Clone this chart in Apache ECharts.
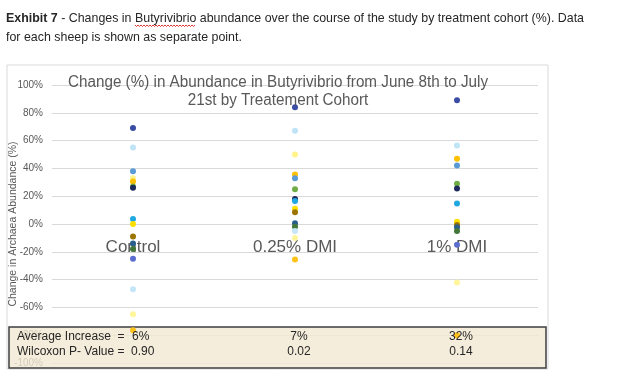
<!DOCTYPE html>
<html>
<head>
<meta charset="utf-8">
<script src="https://cdn.jsdelivr.net/npm/echarts@6/dist/echarts.min.js"></script>
<style>
html,body{margin:0;padding:0;background:#fff;}
#c{width:624px;height:390px;}
</style>
</head>
<body>
<div id="c"></div>
<script>
// ---- data ----
const categories = ['Control', '0.25% DMI', '1% DMI'];
// change (%) per sheep, one value per sheep in each cohort (null = not visible)
const control = [69, 55, 33, 30.5, 38, 27, 26, 3.6, 0, -9, -14, -18, -25, -47, -65, -76.5];
const dmi025  = [84, 67, 50, 35.6, 33, 25, 18, 16.6, 11, 8.4, 0.5, -2, null, -5, -10, -25.5];
const dmi1    = [89, 56.5, null, 47, 42, 29, 25.5, 14.7, 1.7, -0.7, -2.4, -5, -15, null, -42, -80];
const avgIncrease = ['6%', '7%', '32%'];
const pValues = ['0.90', '0.02', '0.14'];
const yMin = -100, yMax = 100, yStep = 20;
const titleLines = ['Change (%) in Abundance in Butyrivibrio from June 8th to July', '21st by Treatement Cohort'];
const captionBold = 'Exhibit 7';
const captionLine1 = ' - Changes in Butyrivibrio abundance over the course of the study by treatment cohort (%). Data';
const captionLine2 = 'for each sheep is shown as separate point.';

// ---- styles ----
const sheepColors = ['#3A4CA3', '#BFE4F6', '#FFF38A', '#FFC000', '#5B9BD5', '#70AD47', '#1F2A5C', '#20A9E1',
  '#FFE000', '#9C7400', '#2A5E8C', '#43773A', '#5B6ECF', '#C5E6F7', '#FFF59A', '#FFC21A'];

const chart = echarts.init(document.getElementById('c'), null, {renderer: 'canvas'});

const series = control.map((v, i) => ({
  name: 'Sheep ' + (i + 1),
  type: 'scatter',
  symbolSize: 6,
  itemStyle: {color: sheepColors[i], opacity: 1},
  data: [[categories[0], control[i]], [categories[1], dmi025[i]], [categories[2], dmi1[i]]]
    .filter(d => d[1] !== null),
  z: 2
}));

chart.setOption({
  animation: false,
  grid: {left: 52, right: 86, top: 85, bottom: 27, containLabel: false, outerBoundsMode: 'none'},
  xAxis: {
    type: 'category', data: categories, boundaryGap: true, position: 'bottom', offset: -139,
    axisLine: {show: false, onZero: false},
    axisTick: {show: false},
    splitLine: {show: false},
    axisLabel: {fontFamily: 'Liberation Sans', fontSize: 17, color: '#595959', margin: 15}
  },
  yAxis: {
    type: 'value', min: yMin, max: yMax, interval: yStep,
    name: 'Change in Archaea Abundance (%)', nameLocation: 'middle', nameGap: 33, nameMoveOverlap: false,
    nameTextStyle: {fontFamily: 'Liberation Sans', fontSize: 10.5, color: '#595959'},
    axisLine: {show: false}, axisTick: {show: false},
    axisLabel: {formatter: '{value}%', fontFamily: 'Liberation Sans', fontSize: 10, color: '#595959', margin: 9},
    splitLine: {lineStyle: {color: '#D9D9D9', width: 1}}
  },
  series: series
});

// ---- annotations ----
const mctx = document.createElement('canvas').getContext('2d');
const capFont = 'Liberation Sans', capSize = 13.5;
mctx.font = 'bold ' + capSize + 'px "' + capFont + '"';
const wBold = mctx.measureText(captionBold).width;
mctx.font = capSize + 'px "' + capFont + '"';
const wRest = mctx.measureText(captionLine1).width;
const capScale = 578 / (wBold + wRest);
const wPre = mctx.measureText(' - Changes in ').width;
const wWord = mctx.measureText('Butyrivibrio').width;
const capX = 6;
const sqStart = capX + (wBold + wPre) * capScale, sqEnd = sqStart + wWord * capScale;
const squiggle = [];
for (let x = sqStart, k = 0; x <= sqEnd; x += 1.5, k++) squiggle.push([x, 25.5 + (k % 2 ? 1 : -0.5)]);

const titleFont = 'Liberation Sans', titleSize = 16;
mctx.font = titleSize + 'px "' + titleFont + '"';
const titleScale = 420 / mctx.measureText(titleLines[0]).width;

const colX = categories.map(c => chart.convertToPixel({xAxisIndex: 0}, c));
const statFont = 'Liberation Sans';
const stat = (text, x, y, align) => ({type: 'text', z: 10, silent: true, x: x, y: y,
  style: {text: text, fontFamily: statFont, fontSize: 12, fill: '#262626', verticalAlign: 'middle', align: align}});
const graphics = [
  {type: 'rect', z: 0, silent: true, shape: {x: 7, y: 65, width: 541, height: 304},
    style: {fill: 'none', stroke: '#D9D9D9', lineWidth: 1}},
  {type: 'rect', z: 1, silent: true, shape: {x: 9, y: 327, width: 537, height: 41},
    style: {fill: 'rgba(243,233,210,0.8)', stroke: '#3F3F3F', lineWidth: 1.5}},
  {type: 'text', z: 10, silent: true, x: capX, y: 8.5, scaleX: capScale, style: {
    text: '{b|' + captionBold + '}' + captionLine1 + '\n' + captionLine2,
    fontFamily: capFont, fontSize: capSize, fill: '#262626', lineHeight: 19, verticalAlign: 'top',
    rich: {b: {fontWeight: 'bold', fontFamily: capFont, fontSize: capSize, fill: '#262626', lineHeight: 19}}
  }},
  {type: 'polyline', z: 10, silent: true, shape: {points: squiggle}, style: {stroke: '#E03030', lineWidth: 1, fill: null}},
  {type: 'text', z: 3, silent: true, x: 278, y: 83, scaleX: titleScale, style: {
    text: titleLines[0], fontFamily: titleFont, fontSize: titleSize, fill: '#595959', align: 'center', verticalAlign: 'middle'}},
  {type: 'text', z: 3, silent: true, x: 278, y: 101, scaleX: titleScale, style: {
    text: titleLines[1], fontFamily: titleFont, fontSize: titleSize, fill: '#595959', align: 'center', verticalAlign: 'middle'}},
  stat('Average Increase', 17, 337, 'left'),
  stat('Wilcoxon P- Value', 17, 352, 'left'),
  stat('=', colX[0] - 12, 337, 'center'),
  stat('=', colX[0] - 12, 352, 'center'),
  stat(avgIncrease[0], colX[0] - 1, 337, 'left'),
  stat(pValues[0], colX[0] - 2, 352, 'left')
];
for (let i = 1; i < categories.length; i++) {
  graphics.push(stat(avgIncrease[i], colX[i] + 4, 337, 'center'));
  graphics.push(stat(pValues[i], colX[i] + 4, 352, 'center'));
}
chart.setOption({graphic: graphics});
</script>
</body>
</html>
